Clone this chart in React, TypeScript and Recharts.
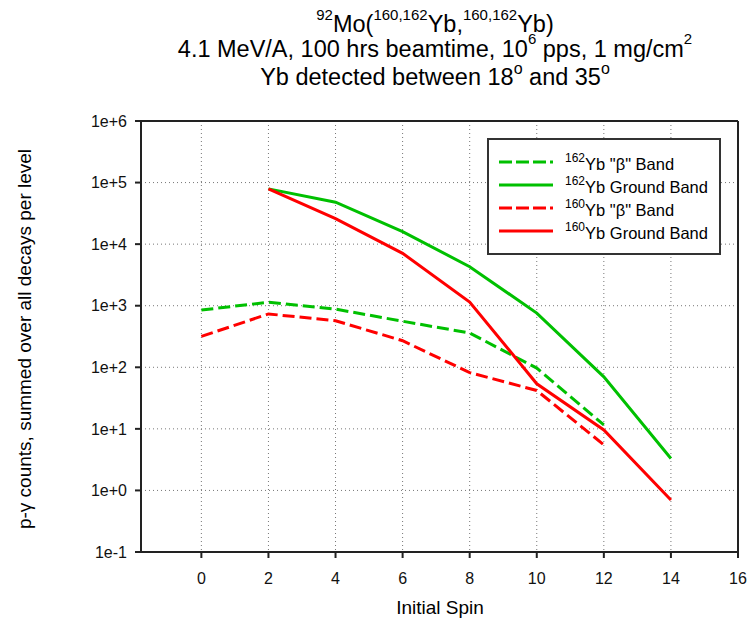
import { LineChart, Line, XAxis, YAxis, CartesianGrid, ReferenceLine } from "recharts";

const spins = [0, 2, 4, 6, 8, 10, 12, 14];
const yb162Beta = [850, 1140, 880, 560, 360, 97, 11.6, null];
const yb162Ground = [null, 79000, 48000, 16000, 4300, 760, 70, 3.3];
const yb160Beta = [317, 735, 570, 270, 82, 42, 5.5, null];
const yb160Ground = [null, 79000, 26000, 7100, 1150, 54, 9.6, 0.7];

const xTicks = [0, 2, 4, 6, 8, 10, 12, 14, 16];
const yTicks = [0.1, 1, 10, 100, 1000, 10000, 100000, 1000000];

const GREEN = "#00c000";
const RED = "#ff0000";
const FONT = "'Liberation Sans', Arial, sans-serif";

const series = [
  { key: "b162", label: "\"β\" Band", mass: "162", color: GREEN, dash: "12 5" },
  { key: "g162", label: "Ground Band", mass: "162", color: GREEN, dash: undefined },
  { key: "b160", label: "\"β\" Band", mass: "160", color: RED, dash: "12 5" },
  { key: "g160", label: "Ground Band", mass: "160", color: RED, dash: undefined },
];

const data = spins.map((s, i) => ({
  spin: s,
  b162: yb162Beta[i],
  g162: yb162Ground[i],
  b160: yb160Beta[i],
  g160: yb160Ground[i],
}));

const fmtExp = (v: number) => {
  const e = Math.round(Math.log10(v));
  return "1e" + (e >= 0 ? "+" : "-") + Math.abs(e);
};

export default function App() {
  return (
    <div style={{ position: "absolute", left: 0, top: 0, width: 749, height: 626, background: "#fff", fontFamily: FONT }}>
      <LineChart width={749} height={626} data={data} margin={{ top: 121, right: 11, bottom: 44, left: 81 }}>
        <CartesianGrid stroke="#777" strokeDasharray="1 3" />
        <XAxis
          dataKey="spin"
          type="number"
          domain={[-1.8, 16]}
          ticks={xTicks}
          allowDataOverflow
          height={30}
          tickSize={6}
          tickMargin={15}
          axisLine={{ stroke: "#222", strokeWidth: 2 }}
          tickLine={{ stroke: "#222", strokeWidth: 2 }}
          tick={{ fill: "#111", fontSize: 16, fontFamily: FONT }}
        />
        <YAxis
          scale="log"
          domain={[0.1, 1000000]}
          ticks={yTicks}
          allowDataOverflow
          width={60}
          tickSize={6}
          tickMargin={8}
          tickFormatter={fmtExp}
          axisLine={{ stroke: "#222", strokeWidth: 2 }}
          tickLine={{ stroke: "#222", strokeWidth: 2 }}
          tick={{ fill: "#111", fontSize: 16, fontFamily: FONT }}
        />
        <ReferenceLine y={1000000} stroke="#222" strokeWidth={2} />
        <ReferenceLine x={16} stroke="#222" strokeWidth={2} />
        {series.map((s) => (
          <Line
            key={s.key}
            dataKey={s.key}
            type="linear"
            stroke={s.color}
            strokeWidth={3}
            strokeDasharray={s.dash}
            dot={false}
            activeDot={false}
            isAnimationActive={false}
          />
        ))}
      </LineChart>

      <svg width={749} height={626} style={{ position: "absolute", left: 0, top: 0, pointerEvents: "none" }} fontFamily={FONT} fill="#000">
        <text x={435} y={32} textAnchor="middle" fontSize={23.5}>
          <tspan fontSize={15} dy={-12}>92</tspan>
          <tspan dy={12}>Mo(</tspan>
          <tspan fontSize={15} dy={-12}>160,162</tspan>
          <tspan dy={12}>Yb,</tspan>
          <tspan fontSize={15} dy={-12}>160,162</tspan>
          <tspan dy={12}>Yb)</tspan>
        </text>
        <text x={435} y={57} textAnchor="middle" fontSize={23.5}>
          <tspan>4.1 MeV/A, 100 hrs beamtime, 10</tspan>
          <tspan fontSize={15} dy={-13}>6</tspan>
          <tspan dy={13}> pps, 1 mg/cm</tspan>
          <tspan fontSize={15} dy={-13}>2</tspan>
        </text>
        <text x={435} y={85} textAnchor="middle" fontSize={23.5}>
          <tspan>Yb detected between 18</tspan>
          <tspan fontSize={16} dy={-11}>o</tspan>
          <tspan dy={11}> and 35</tspan>
          <tspan fontSize={16} dy={-11}>o</tspan>
        </text>

        <text transform="translate(31,339) rotate(-90)" textAnchor="middle" fontSize={19}>
          p-γ counts, summed over all decays per level
        </text>
        <text x={440} y={614} textAnchor="middle" fontSize={19}>
          Initial Spin
        </text>

        <rect x={488} y={139} width={232} height={115} fill="#fff" stroke="#333" strokeWidth={2} />
        {series.map((s, i) => {
          const base = 169.5 + i * 23;
          return (
            <g key={s.key}>
              <line x1={499} x2={553} y1={base - 7.5} y2={base - 7.5} stroke={s.color} strokeWidth={3} strokeDasharray={s.dash ? "13 4" : undefined} />
              <text x={565} y={base} fontSize={16.5}>
                <tspan fontSize={12} dy={-8}>{s.mass}</tspan>
                <tspan dy={8}>Yb {s.label}</tspan>
              </text>
            </g>
          );
        })}
      </svg>
    </div>
  );
}
